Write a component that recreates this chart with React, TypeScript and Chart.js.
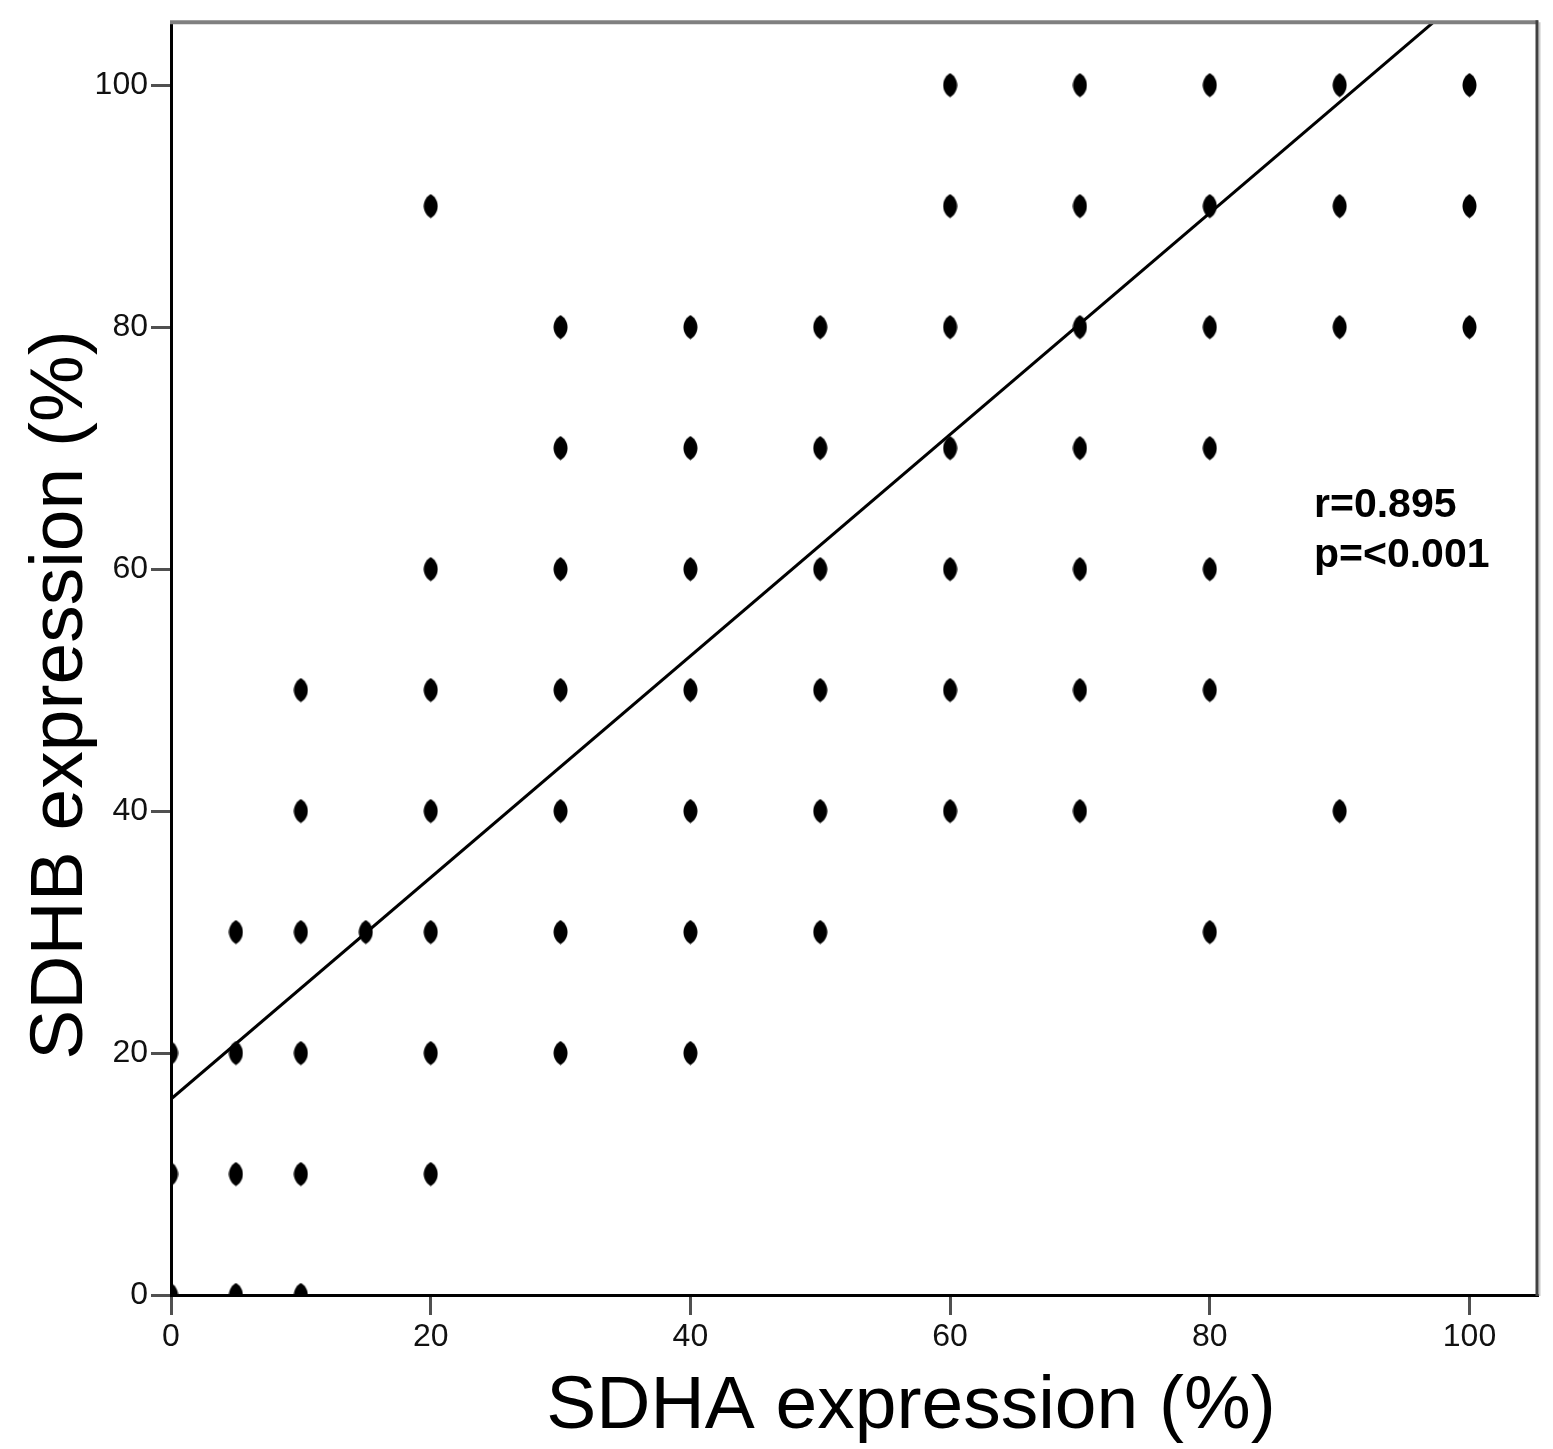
import React, { useEffect, useRef } from "react";
import { Chart, registerables } from "chart.js";

Chart.register(...registerables);

// SDHA expression (%) for each case
const sdhaValues = [
  0, 0, 0,
  5, 5, 5, 5,
  10, 10, 10, 10, 10, 10,
  15,
  20, 20, 20, 20, 20, 20, 20,
  30, 30, 30, 30, 30, 30, 30,
  40, 40, 40, 40, 40, 40, 40,
  50, 50, 50, 50, 50, 50,
  60, 60, 60, 60, 60, 60, 60,
  70, 70, 70, 70, 70, 70, 70,
  80, 80, 80, 80, 80, 80, 80,
  90, 90, 90, 90,
  100, 100, 100,
];

// SDHB expression (%) for each case
const sdhbValues = [
  0, 10, 20,
  0, 10, 20, 30,
  0, 10, 20, 30, 40, 50,
  30,
  10, 20, 30, 40, 50, 60, 90,
  20, 30, 40, 50, 60, 70, 80,
  20, 30, 40, 50, 60, 70, 80,
  30, 40, 50, 60, 70, 80,
  40, 50, 60, 70, 80, 90, 100,
  40, 50, 60, 70, 80, 90, 100,
  30, 50, 60, 70, 80, 90, 100,
  40, 80, 90, 100,
  80, 90, 100,
];

// Fitted regression line end points
const fitLineX = [0, 105.2];
const fitLineY = [16.2, 112.5];

const xTickValues = [0, 20, 40, 60, 80, 100];
const yTickValues = [0, 20, 40, 60, 80, 100];
const axisMin = 0;
const axisMax = 105.2;

const xAxisTitle = "SDHA expression (%)";
const yAxisTitle = "SDHB expression (%)";
const statLines = ["r=0.895", "p=<0.001"];

const FONT = "'Liberation Sans', Arial, sans-serif";

export default function App() {
  const canvasRef = useRef<HTMLCanvasElement>(null);

  useEffect(() => {
    const marker = document.createElement("canvas");
    marker.width = 15;
    marker.height = 25;
    const mctx = marker.getContext("2d")!;
    mctx.fillStyle = "#000";
    mctx.beginPath();
    mctx.moveTo(7.5, 0.5);
    mctx.bezierCurveTo(10.5, 2, 14.5, 6.5, 14.5, 12.5);
    mctx.bezierCurveTo(14.5, 18.5, 10.5, 23, 7.5, 24.5);
    mctx.bezierCurveTo(4.5, 23, 0.5, 18.5, 0.5, 12.5);
    mctx.bezierCurveTo(0.5, 6.5, 4.5, 2, 7.5, 0.5);
    mctx.closePath();
    mctx.fill();

    const overlay = {
      id: "overlay",
      afterDraw(chart: any) {
        const { ctx, chartArea } = chart;
        const { left, right, top, bottom } = chartArea;
        ctx.save();
        // top frame
        ctx.strokeStyle = "#808080";
        ctx.lineWidth = 4;
        ctx.beginPath();
        ctx.moveTo(left - 1, top);
        ctx.lineTo(right + 1, top);
        ctx.stroke();
        // right frame
        ctx.strokeStyle = "#c8c8c8";
        ctx.lineWidth = 2;
        ctx.beginPath();
        ctx.moveTo(right + 2.5, top);
        ctx.lineTo(right + 2.5, bottom + 1);
        ctx.stroke();
        ctx.strokeStyle = "#404040";
        ctx.lineWidth = 3;
        ctx.beginPath();
        ctx.moveTo(right, top - 2);
        ctx.lineTo(right, bottom + 1);
        ctx.stroke();

        // axis titles
        ctx.fillStyle = "#000";
        ctx.font = `75px ${FONT}`;
        ctx.textAlign = "center";
        ctx.textBaseline = "alphabetic";
        ctx.fillText(xAxisTitle, 911, 1428);

        ctx.save();
        ctx.translate(82, 695);
        ctx.rotate(-Math.PI / 2);
        ctx.fillText(yAxisTitle, 0, 0);
        ctx.restore();

        // statistics annotation
        ctx.font = `bold 41px ${FONT}`;
        ctx.textAlign = "left";
        ctx.fillText(statLines[0], 1314, 517);
        ctx.fillText(statLines[1], 1314, 567);
        ctx.restore();
      },
    };

    const tickFont = { family: FONT, size: 32 };

    const chart = new Chart(canvasRef.current!, {
      type: "scatter",
      data: {
        datasets: [
          {
            label: "fit",
            data: fitLineX.map((x, i) => ({ x, y: fitLineY[i] })),
            showLine: true,
            borderColor: "#000",
            borderWidth: 3,
            pointRadius: 0,
            fill: false,
            clip: 0,
            order: 0,
          } as any,
          {
            label: "cases",
            data: sdhaValues.map((x, i) => ({ x, y: sdhbValues[i] })),
            pointStyle: marker,
            pointRadius: 8,
            backgroundColor: "#000",
            borderColor: "#000",
            clip: 0,
            order: 1,
          } as any,
        ],
      },
      options: {
        animation: false,
        responsive: false,
        devicePixelRatio: 1,
        layout: { padding: { top: 19, right: 16, left: 0, bottom: 0 } },
        plugins: {
          legend: { display: false },
          tooltip: { enabled: false },
        },
        scales: {
          x: {
            type: "linear",
            min: axisMin,
            max: axisMax,
            afterBuildTicks: (s: any) => {
              s.ticks = xTickValues.map((v) => ({ value: v }));
            },
            afterFit: (s: any) => {
              s.height = 154;
            },
            grid: {
              drawOnChartArea: false,
              drawTicks: true,
              tickLength: 20,
              color: "#505050",
              lineWidth: 3,
            },
            border: { display: true, color: "#000", width: 3 },
            ticks: {
              font: tickFont,
              color: "#111",
              padding: 3,
              maxRotation: 0,
              autoSkip: false,
            },
          },
          y: {
            type: "linear",
            min: axisMin,
            max: axisMax,
            afterBuildTicks: (s: any) => {
              s.ticks = yTickValues.map((v) => ({ value: v }));
            },
            afterFit: (s: any) => {
              s.width = 171;
            },
            grid: {
              drawOnChartArea: false,
              drawTicks: true,
              tickLength: 20,
              color: "#505050",
              lineWidth: 3,
            },
            border: { display: true, color: "#000", width: 3 },
            ticks: {
              font: tickFont,
              color: "#111",
              padding: 3,
              autoSkip: false,
            },
          },
        },
      },
      plugins: [overlay],
    } as any);

    return () => chart.destroy();
  }, []);

  return (
    <div
      style={{
        position: "fixed",
        left: 0,
        top: 0,
        width: 1553,
        height: 1449,
        background: "#fff",
      }}
    >
      <canvas
        ref={canvasRef}
        width={1553}
        height={1449}
        style={{ display: "block", width: 1553, height: 1449 }}
      />
    </div>
  );
}
